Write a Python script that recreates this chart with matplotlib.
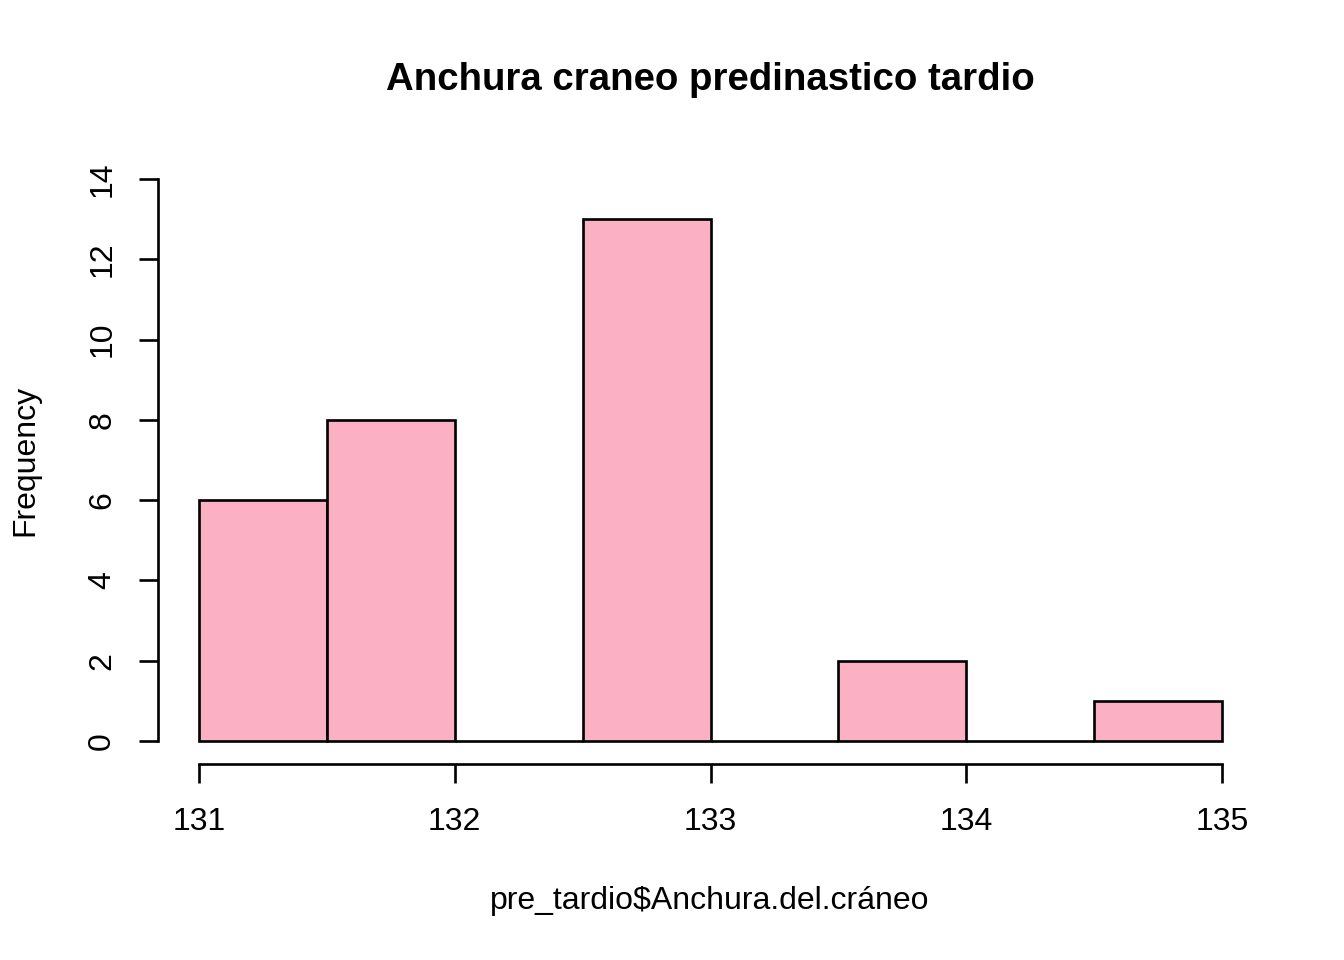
import matplotlib
matplotlib.use("Agg")
import matplotlib.pyplot as plt
import numpy as np

plt.rcParams['font.family'] = ['Liberation Sans', 'DejaVu Sans']

bin_edges = [131.0, 131.5, 132.0, 132.5, 133.0, 133.5, 134.0, 134.5, 135.0]
counts = [6, 8, 0, 13, 0, 2, 0, 1]
x_ticks = [131, 132, 133, 134, 135]
y_ticks = [0, 2, 4, 6, 8, 10, 12, 14]
title = "Anchura craneo predinastico tardio"
xlabel = "pre_tardio$Anchura.del.cráneo"
ylabel = "Frequency"

W, H, DPI = 1344, 960, 192
fig = plt.figure(figsize=(W / DPI, H / DPI), dpi=DPI)
left, right, top, bottom = 158, 1263, 156.5, 763.5
ax = fig.add_axes([left / W, 1 - bottom / H, (right - left) / W, (bottom - top) / H])

edges = np.array(bin_edges)
widths = np.diff(edges)
ax.bar(edges[:-1], counts, width=widths, align='edge', color='#FCB0C3',
       edgecolor='black', linewidth=1.0)

ax.set_xlim(131 - 0.16, 135 + 0.16)
ax.set_ylim(-0.56, 14.56)

for s in ['top', 'right']:
    ax.spines[s].set_visible(False)
ax.spines['left'].set_bounds(0, 14)
ax.spines['bottom'].set_bounds(131, 135)
ax.spines['left'].set_linewidth(1.0)
ax.spines['bottom'].set_linewidth(1.0)

ax.set_xticks(x_ticks)
ax.set_xticklabels([str(v) for v in x_ticks])
ax.set_yticks(y_ticks)
ax.set_yticklabels([str(v) for v in y_ticks], rotation=90, va='center')
ax.tick_params(axis='both', length=7.3, width=1.0, labelsize=12)
ax.tick_params(axis='x', pad=9)
ax.tick_params(axis='y', pad=8)

fig.text(710 / W, 1 - 80 / H, title, ha='center', va='center', fontsize=14.4, fontweight='bold')
fig.text(710 / W, 1 - 901 / H, xlabel, ha='center', va='center', fontsize=12)
fig.text(25 / W, 1 - 460 / H, ylabel, ha='center', va='center', fontsize=12, rotation=90)

fig.savefig("out.png", dpi=DPI)
